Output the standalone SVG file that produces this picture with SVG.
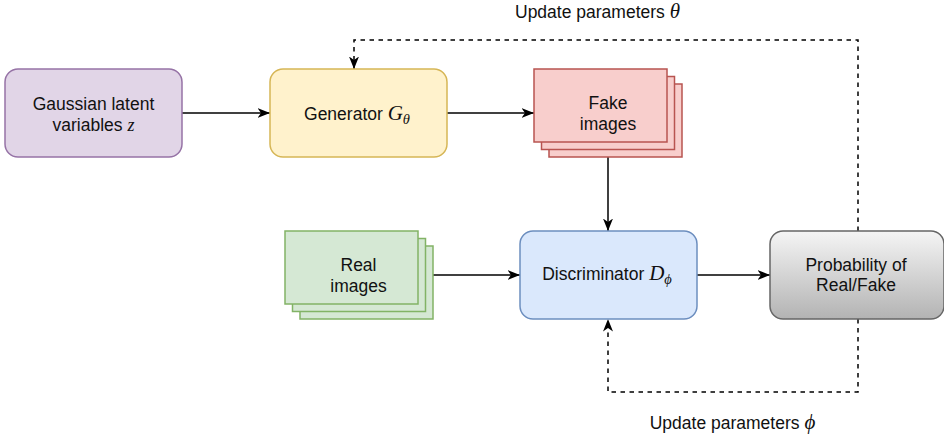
<svg xmlns="http://www.w3.org/2000/svg" width="944" height="438" viewBox="0 0 944 438">
  <defs>
    <linearGradient id="grayFill" x1="0" y1="0" x2="0" y2="1">
      <stop offset="0" stop-color="#f5f5f5"/>
      <stop offset="1" stop-color="#b3b3b3"/>
    </linearGradient>
    <marker id="arrow" viewBox="0 0 13 11" refX="12.5" refY="5.5" markerWidth="13" markerHeight="11" markerUnits="userSpaceOnUse" orient="auto">
      <path d="M12.5,5.5 L0,0.5 L3.5,5.5 L0,10.5 Z" fill="#000" stroke="none"/>
    </marker>
  </defs>
  <style>
    .lbl { font-family: "Liberation Sans", Arial, sans-serif; font-size: 17.5px; fill: #111111; text-anchor: middle; }
    .math { font-family: "Liberation Serif", "Times New Roman", serif; font-style: italic; font-size: 21px; }
    .mathsm { font-family: "Liberation Serif", "Times New Roman", serif; font-style: italic; font-size: 18px; }
    .sub { font-family: "Liberation Serif", "Times New Roman", serif; font-style: italic; font-size: 14.5px; }
    .box { stroke-width: 1.5; }
    .edge { fill: none; stroke: #000; stroke-width: 1.5; marker-end: url(#arrow); }
    .dash { stroke-dasharray: 4.5 4.5; }
  </style>

  <!-- connectors -->
  <g id="connectors">
    <path class="edge" d="M182,113 L270,113"/>
    <path class="edge" d="M447,113 L534,113"/>
    <path class="edge" d="M608,157 L608,231"/>
    <path class="edge" d="M432,275 L520,275"/>
    <path class="edge" d="M697,275 L770,275"/>
    <path class="edge dash" d="M858,231 L858,40 L354,40 L354,69"/>
    <path class="edge dash" d="M858,319 L858,392 L608,392 L608,319"/>
  </g>

  <g id="latent">
    <rect class="box" x="5" y="69" width="177" height="88" rx="13" fill="#e1d5e7" stroke="#9673a6"/>
    <text class="lbl" x="93.5" y="110">Gaussian latent</text>
    <text class="lbl" x="93.5" y="130.5">variables <tspan class="mathsm">z</tspan></text>
  </g>

  <g id="generator">
    <rect class="box" x="270" y="69" width="177" height="88" rx="13" fill="#fff2cc" stroke="#d6b656"/>
    <text class="lbl" x="357" y="120">Generator <tspan class="math">G</tspan><tspan class="sub" dy="4">θ</tspan></text>
  </g>

  <g id="fake-images">
    <rect class="box" x="549" y="84" width="133" height="73" fill="#f8cecc" stroke="#b85450"/>
    <rect class="box" x="541.5" y="76.5" width="133" height="73" fill="#f8cecc" stroke="#b85450"/>
    <rect class="box" x="534" y="69" width="133" height="73" fill="#f8cecc" stroke="#b85450"/>
    <text class="lbl" x="608" y="109">Fake</text>
    <text class="lbl" x="608" y="129.5">images</text>
  </g>

  <g id="real-images">
    <rect class="box" x="300" y="246" width="133" height="73" fill="#d5e8d4" stroke="#82b366"/>
    <rect class="box" x="292.5" y="238.5" width="133" height="73" fill="#d5e8d4" stroke="#82b366"/>
    <rect class="box" x="285" y="231" width="133" height="73" fill="#d5e8d4" stroke="#82b366"/>
    <text class="lbl" x="358.5" y="271">Real</text>
    <text class="lbl" x="358.5" y="291.5">images</text>
  </g>

  <g id="discriminator">
    <rect class="box" x="520" y="231" width="177" height="88" rx="13" fill="#dae8fc" stroke="#6c8ebf"/>
    <text class="lbl" x="607" y="280">Discriminator <tspan class="math">D</tspan><tspan class="sub" dy="4">ϕ</tspan></text>
  </g>

  <g id="probability">
    <rect class="box" x="770" y="231" width="174" height="88" rx="13" fill="url(#grayFill)" stroke="#666666"/>
    <text class="lbl" x="856" y="270.5">Probability of</text>
    <text class="lbl" x="856" y="291">Real/Fake</text>
  </g>

  <g id="labels">
    <text class="lbl" x="597.5" y="17.5">Update parameters <tspan class="math">θ</tspan></text>
    <text class="lbl" x="732.5" y="429">Update parameters <tspan class="math">ϕ</tspan></text>
  </g>
</svg>
